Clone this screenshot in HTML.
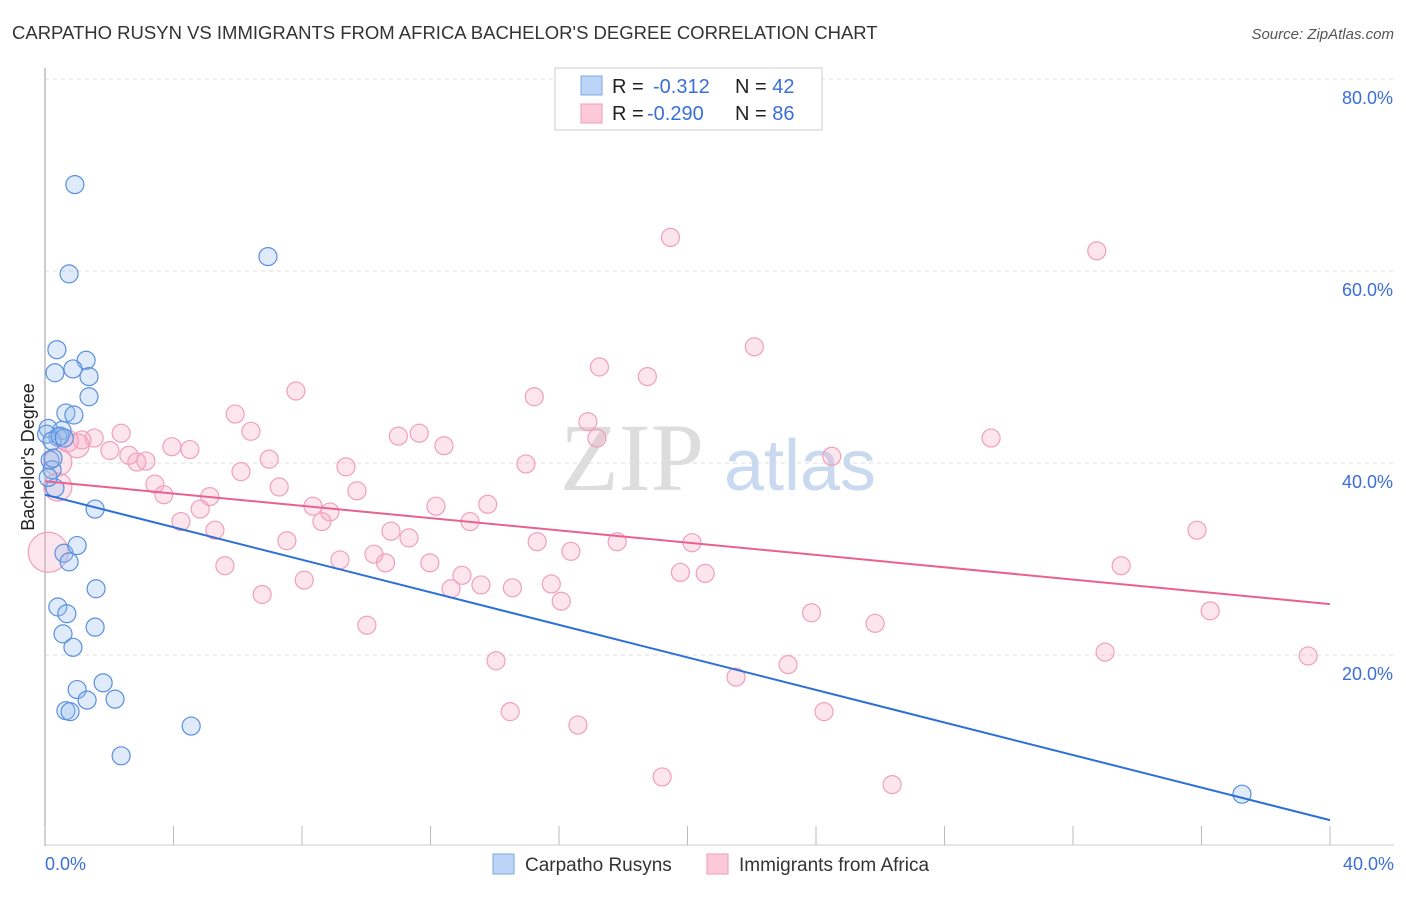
<!DOCTYPE html>
<html><head><meta charset="utf-8"><style>
body{margin:0;background:#fff;font-family:"Liberation Sans",sans-serif;}
</style></head><body>
<svg width="1406" height="892" viewBox="0 0 1406 892" font-family="Liberation Sans, sans-serif">
<text x="12" y="39" font-size="18.5" fill="#333">CARPATHO RUSYN VS IMMIGRANTS FROM AFRICA BACHELOR'S DEGREE CORRELATION CHART</text>
<text x="1394" y="39" font-size="15" fill="#555" font-style="italic" text-anchor="end">Source: ZipAtlas.com</text>
<g id="grid"></g>
<text x="632" y="490" font-size="96" fill="#ddd" font-family="Liberation Serif, serif" text-anchor="middle">ZIP</text>
<text x="800" y="490" font-size="72" fill="#c9daf0" text-anchor="middle">atlas</text>
<g id="points"></g>
<g id="lines"></g>
<text transform="translate(34,457) rotate(-90)" font-size="18" fill="#222" text-anchor="middle">Bachelor's Degree</text>
<text x="45" y="870" font-size="18" fill="#3a6fd8" text-anchor="start">0.0%</text>
<text x="1394" y="870" font-size="18" fill="#3a6fd8" text-anchor="end">40.0%</text>
<g>
<rect x="555" y="68" width="267" height="62" fill="#fff" stroke="#ccc"/>
<rect x="581" y="76" width="21" height="19" fill="#bcd4f5" stroke="#7ba7e8"/>
<rect x="581" y="104" width="21" height="19" fill="#fcc9d8" stroke="#f09ab4"/>
<text x="612" y="93" font-size="20" fill="#222">R = <tspan fill="#3a6fd8" x="653">-0.312</tspan><tspan x="735" fill="#222">N = </tspan><tspan fill="#3a6fd8">42</tspan></text>
<text x="612" y="120" font-size="20" fill="#222">R = <tspan fill="#3a6fd8" x="647">-0.290</tspan><tspan x="735" fill="#222">N = </tspan><tspan fill="#3a6fd8">86</tspan></text>
</g>
<g>
<rect x="493" y="854" width="21" height="20" fill="#bcd4f5" stroke="#7ba7e8"/>
<text x="525" y="871" font-size="19" fill="#333">Carpatho Rusyns</text>
<rect x="707" y="854" width="21" height="20" fill="#fcc9d8" stroke="#f09ab4"/>
<text x="739" y="871" font-size="19" fill="#333">Immigrants from Africa</text>
</g>
</svg>
<script>
const yTicks=[20,40,60,80];
const xTicks=[0,4,8,12,16,20,24,28,32,36,40];
const blueX=[0.93,6.94,0.75,0.37,1.28,0.31,0.87,1.37,1.37,0.65,0.9,0.1,0.53,0.4,0.16,0.22,0.31,1.56,0.59,1.0,0.75,1.59,0.4,0.68,0.56,1.56,0.87,1.0,1.81,1.31,0.65,0.78,2.18,4.55,2.37,37.26,0.05,0.22,0.47,0.25,0.1,0.6];
const blueY=[69.0,61.5,59.7,51.8,50.7,49.4,49.8,49.0,46.9,45.2,45.0,43.6,43.4,42.7,40.3,39.3,37.4,35.2,30.6,31.4,29.7,26.9,25.0,24.3,22.2,22.9,20.8,16.4,17.1,15.3,14.2,14.1,15.4,12.6,9.5,5.5,43.0,42.3,42.8,40.5,38.5,42.6];
const pinkX=[19.47,32.74,22.08,17.26,18.75,7.81,15.23,5.92,16.9,6.41,11.0,11.65,17.18,29.45,2.37,1.53,1.15,12.42,3.95,4.51,2.02,2.61,2.86,3.14,6.98,24.49,14.97,9.37,6.1,0.4,3.42,7.29,3.7,9.71,5.13,4.83,8.34,8.87,12.17,13.78,4.23,8.62,13.23,5.29,10.77,35.86,11.33,7.53,15.32,17.81,20.14,10.24,16.37,9.18,10.6,11.98,5.6,33.5,12.98,19.78,20.55,8.07,13.57,15.76,12.64,14.55,6.76,16.07,23.86,36.27,10.02,25.84,33.0,39.32,14.04,23.13,21.51,14.48,24.25,16.59,19.21,26.37,0.1,0.4,1.0,0.7];
const pinkY=[63.5,62.1,52.1,50.0,49.0,47.5,46.9,45.1,44.3,43.3,42.8,43.1,42.6,42.6,43.1,42.6,42.4,41.8,41.7,41.4,41.3,40.8,40.1,40.2,40.4,40.7,39.9,39.6,39.1,40.1,37.8,37.5,36.7,37.1,36.5,35.2,35.5,34.9,35.5,35.7,33.9,33.9,33.9,33.0,32.9,33.0,32.2,31.9,31.8,31.8,31.7,30.5,30.8,29.9,29.6,29.6,29.3,29.3,28.3,28.6,28.5,27.8,27.3,27.4,26.9,27.0,26.3,25.6,24.4,24.6,23.1,23.3,20.3,19.9,19.4,19.0,17.7,14.1,14.1,12.7,7.3,6.5,30.7,37.5,41.8,42.3];
const pinkR=[9,9,9,9,9,9,9,9,9,9,9,9,9,9,9,9,9,9,9,9,9,9,9,9,9,9,9,9,9,14,9,9,9,9,9,9,9,9,9,9,9,9,9,9,9,9,9,9,9,9,9,9,9,9,9,9,9,9,9,9,9,9,9,9,9,9,9,9,9,9,9,9,9,9,9,9,9,9,9,9,9,9,20,14,12,11];
const blueTrend=[36.7,2.8];
const pinkTrend=[38.1,25.3];
const X=v=>45+v*(1285/40);
const Y=v=>847-v*9.6;
const NS='http://www.w3.org/2000/svg';
function mk(tag,attrs,parent){const e=document.createElementNS(NS,tag);for(const k in attrs)e.setAttribute(k,attrs[k]);parent.appendChild(e);return e;}
const grid=document.getElementById('grid');
let ax=mk('line',{x1:45,y1:68,x2:45,y2:846,stroke:'#aaa','stroke-width':1.2},grid);


let bx=mk('line',{x1:45,y1:845,x2:1394,y2:845,stroke:'#ccc','stroke-width':1},grid);


yTicks.forEach(t=>{
 const g=mk('line',{x1:45,y1:Y(t),x2:1394,y2:Y(t),stroke:'#ddd','stroke-dasharray':'4,4'},grid);
 
 
 const l=mk('text',{x:1393,y:Y(t)+25,'font-size':18,fill:'#3a6fd8','text-anchor':'end'},grid);
 l.textContent=t.toFixed(1)+'%';
 
 
});
xTicks.forEach(t=>{
 const k=mk('line',{x1:X(t),y1:826,x2:X(t),y2:845,stroke:'#bbb'},grid);
 
 
});
const pts=document.getElementById('points');
pinkX.forEach((v,i)=>{
 const c=mk('circle',{cx:X(v),cy:Y(pinkY[i]),r:pinkR[i],fill:'rgba(247,170,195,0.3)',stroke:'#f0a0b8','stroke-width':1.2},pts);
 
 
});
blueX.forEach((v,i)=>{
 const c=mk('circle',{cx:X(v),cy:Y(blueY[i]),r:9,fill:'rgba(150,190,240,0.3)',stroke:'#5a8fe0','stroke-width':1.2},pts);
 
 
});
const ln=document.getElementById('lines');
const tb=mk('line',{x1:X(0),y1:Y(blueTrend[0]),x2:X(40),y2:Y(blueTrend[1]),stroke:'#2b6fd8','stroke-width':2},ln);


const tp=mk('line',{x1:X(0),y1:Y(pinkTrend[0]),x2:X(40),y2:Y(pinkTrend[1]),stroke:'#e8628e','stroke-width':2},ln);


</script>
</body></html>
